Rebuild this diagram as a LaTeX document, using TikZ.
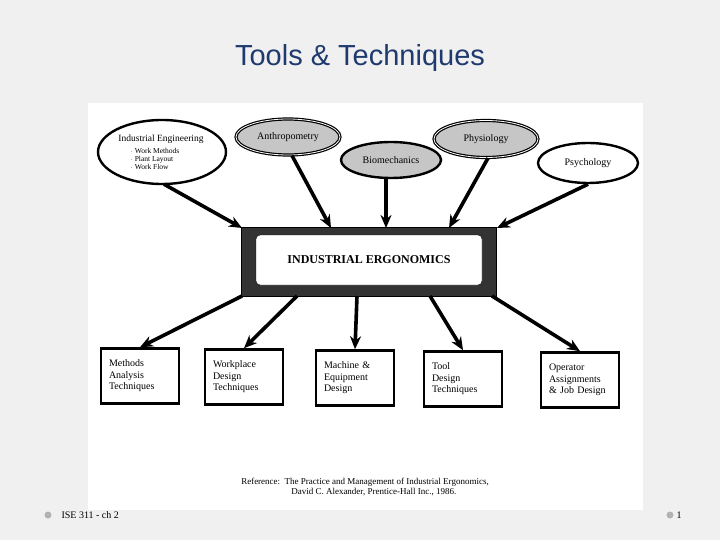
\documentclass[tikz,border=0pt]{standalone}
\usepackage{fontspec}
\setmainfont{Liberation Serif}
\newfontfamily\titlefont{Liberation Sans}
\usetikzlibrary{shapes.geometric,arrows.meta}
\definecolor{titleblue}{HTML}{1F3A6E}
\begin{document}
\begin{tikzpicture}[x=1pt,y=-1pt,
  ell/.style={ellipse,draw,line width=2.4pt,inner sep=0pt,font=\fontsize{10}{11}\selectfont},
  gell/.style={ell,fill=gray!45,draw=black},
  bbox/.style={draw,line width=2.6pt,fill=white,align=left,font=\fontsize{10}{11.5}\selectfont,inner sep=2pt},
  arr/.style={line width=3.6pt,-{Stealth[length=13pt,width=11pt]}}]
\useasboundingbox (0,0) rectangle (720,540);
\fill[gray!12] (0,0) rectangle (720,540);
\fill[white] (88,103) rectangle (643,510);
\node[font=\titlefont\fontsize{29}{32}\selectfont,text=titleblue] (title) at (360,58) {Tools \& Techniques};
% ellipses
\node[ell,minimum width=128pt,minimum height=64pt] (ie) at (162,152) {};
\node[font=\fontsize{9.5}{11}\selectfont] (iet) at (161,139) {Industrial Engineering};
\node[font=\fontsize{7.5}{8}\selectfont,align=left,anchor=north west] (iel) at (127,145) {$\cdot$ Work Methods\\$\cdot$ Plant Layout\\$\cdot$ Work Flow};
\node[gell,minimum width=104pt,minimum height=36pt,double=white,double distance=0.8pt,line width=1.2pt] (an) at (288,137) {Anthropometry};
\node[gell,minimum width=100pt,minimum height=36pt] (bi) at (391,160) {Biomechanics};
\node[gell,minimum width=104pt,minimum height=37pt,double=white,double distance=0.8pt,line width=1.2pt] (ph) at (486,139) {Physiology};
\node[ell,fill=white,minimum width=100pt,minimum height=40pt] (ps) at (588,163) {Psychology};
% central
\node[draw,line width=1pt,fill=black!80,minimum width=255pt,minimum height=68pt] (ce) at (369,262) {};
\node[draw=black,fill=white,rounded corners=4pt,minimum width=226pt,minimum height=50pt,font=\bfseries\fontsize{12}{14}\selectfont] (ci) at (369,260) {INDUSTRIAL ERGONOMICS};
% boxes
\node[bbox,minimum width=78pt,minimum height=55pt,text width=62pt] (b1) at (140,376) {Methods\\Analysis\\Techniques};
\node[bbox,minimum width=78pt,minimum height=55pt,text width=62pt] (b2) at (244,377) {Workplace\\Design\\Techniques};
\node[bbox,minimum width=78pt,minimum height=55pt,text width=62pt] (b3) at (355,378) {Machine \&\\Equipment\\Design};
\node[bbox,minimum width=78pt,minimum height=55pt,text width=62pt] (b4) at (463,379) {Tool\\Design\\Techniques};
\node[bbox,minimum width=78pt,minimum height=55pt,text width=62pt] (b5) at (580,380) {Operator\\Assignments\\\& Job Design};
% arrows
\coordinate (t1) at (242,228); \coordinate (t2) at (331,228); \coordinate (t3) at (386,228);
\coordinate (t4) at (449,228); \coordinate (t5) at (497,228);
\draw[arr] (ie.south) ++(2,-1) coordinate (s1) -- (t1);
\draw[arr] (an.south) ++(4,0) coordinate (s2) -- (t2);
\draw[arr] (bi.south) ++(-5,0) coordinate (s3) -- (t3);
\draw[arr] (ph.south) ++(2,0) coordinate (s4) -- (t4);
\draw[arr] (ps.south) coordinate (s5) -- (t5);
\coordinate (u1) at (242,296); \coordinate (u2) at (297,296); \coordinate (u3) at (357,296);
\coordinate (u4) at (430,296); \coordinate (u5) at (492,296);
\draw[arr] (u1) -- (b1.north);
\draw[arr] (u2) -- (b2.north);
\draw[arr] (u3) -- (b3.north);
\draw[arr] (u4) -- (b4.north);
\draw[arr] (u5) -- (b5.north);
\node[font=\fontsize{9}{10.5}\selectfont,align=left] (ref) at (365,487) {Reference:\ \ The Practice and Management of Industrial Ergonomics,\\\hspace{50pt}David C. Alexander, Prentice-Hall Inc., 1986.};
\fill[gray!60] (48,515) circle (3.5pt) coordinate (d1);
\fill[gray!60] (670,515) circle (3.5pt) coordinate (d2);
\node[font=\fontsize{10}{11}\selectfont,anchor=west] (ft) at (58,515) {ISE 311 - ch 2};
\node[font=\fontsize{10}{11}\selectfont,anchor=west] (pg) at (673,515) {1};
\end{tikzpicture}
\end{document}
